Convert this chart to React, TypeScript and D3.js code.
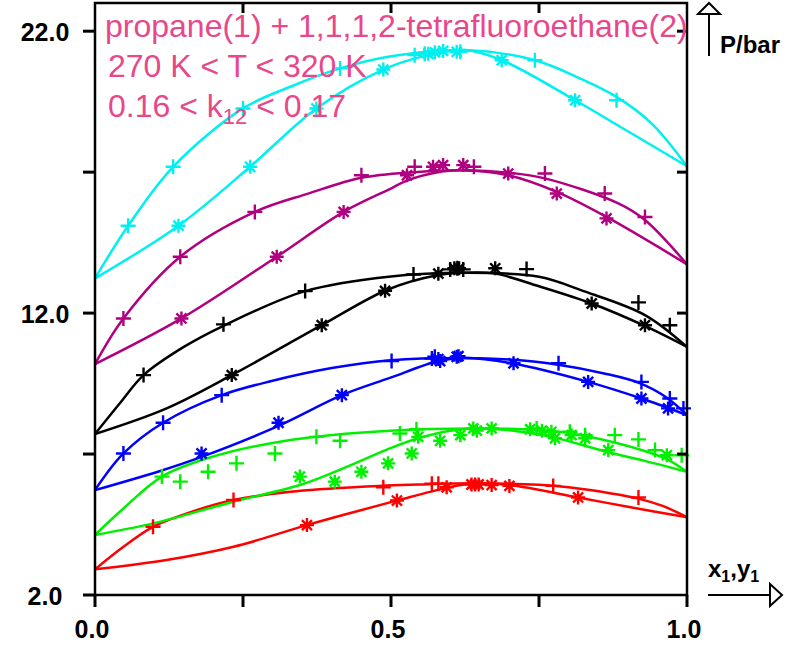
import React from 'react';
import * as d3 from 'd3';

// ---------- data ----------
// x1 / y1 positions and pressures (bar)
const redBubbleX = [0, 0.048, 0.098, 0.17, 0.234, 0.33, 0.45, 0.55, 0.64, 0.75, 0.8, 0.87, 0.918, 0.96, 1.0];
const redBubbleP = [2.91, 3.71, 4.42, 5.0, 5.37, 5.66, 5.84, 5.92, 5.96, 5.91, 5.82, 5.61, 5.42, 5.15, 4.76];
const redDewX = [0, 0.121, 0.234, 0.358, 0.43, 0.51, 0.594, 0.64, 0.7, 0.816, 0.9, 1.0];
const redDewP = [2.91, 3.24, 3.71, 4.48, 4.9, 5.35, 5.8, 5.96, 5.9, 5.46, 5.13, 4.76];
const redPlusX = [0.098, 0.234, 0.487, 0.569, 0.58, 0.774, 0.918];
const redPlusP = [4.42, 5.37, 5.82, 5.95, 5.95, 5.87, 5.46];
const redStarX = [0.358, 0.51, 0.594, 0.636, 0.642, 0.648, 0.67, 0.7, 0.816];
const redStarP = [4.48, 5.35, 5.82, 5.92, 5.92, 5.92, 5.9, 5.87, 5.46];

const greenBubbleX = [0, 0.048, 0.113, 0.19, 0.33, 0.498, 0.647, 0.75, 0.805, 0.876, 0.93, 0.966, 1.0];
const greenBubbleP = [4.13, 5.07, 6.2, 6.85, 7.5, 7.83, 7.91, 7.85, 7.73, 7.42, 7.1, 6.82, 6.37];
const greenDewX = [0, 0.0985, 0.234, 0.346, 0.42, 0.498, 0.546, 0.6, 0.647, 0.71, 0.771, 0.864, 0.93, 1.0];
const greenDewP = [4.13, 4.54, 5.31, 5.9, 6.5, 7.2, 7.56, 7.83, 7.91, 7.82, 7.61, 7.08, 6.75, 6.37];
const greenPlusX = [0.113, 0.144, 0.191, 0.239, 0.304, 0.374, 0.414, 0.515, 0.543, 0.746, 0.802, 0.828, 0.878, 0.918, 0.946, 0.991];
const greenPlusP = [6.2, 6.02, 6.37, 6.67, 7.02, 7.61, 7.47, 7.73, 7.88, 7.91, 7.79, 7.67, 7.67, 7.52, 7.14, 6.96];
const greenStarX = [0.346, 0.405, 0.45, 0.495, 0.535, 0.546, 0.583, 0.617, 0.639, 0.645, 0.67, 0.735, 0.755, 0.771, 0.777, 0.805, 0.828, 0.867, 0.966];
const greenStarP = [6.2, 6.02, 6.37, 6.67, 7.02, 7.61, 7.47, 7.67, 7.91, 7.83, 7.91, 7.88, 7.83, 7.79, 7.56, 7.67, 7.56, 7.14, 6.96];

const blueBubbleX = [0, 0.048, 0.115, 0.214, 0.3, 0.4, 0.5, 0.625, 0.7, 0.785, 0.86, 0.921, 0.966, 1.0];
const blueBubbleP = [5.72, 7.02, 8.11, 9.09, 9.6, 10.05, 10.33, 10.41, 10.35, 10.16, 9.86, 9.51, 9.0, 8.38];
const blueDewX = [0, 0.11, 0.18, 0.31, 0.417, 0.498, 0.58, 0.625, 0.704, 0.833, 0.923, 1.0];
const blueDewP = [5.72, 6.4, 6.9, 8.0, 9.09, 9.7, 10.3, 10.41, 10.22, 9.56, 8.97, 8.38];
const bluePlusX = [0.048, 0.115, 0.214, 0.501, 0.569, 0.574, 0.783, 0.923, 0.971, 0.994];
const bluePlusP = [7.02, 8.11, 9.09, 10.3, 10.39, 10.45, 10.22, 9.56, 8.97, 8.62];
const blueStarX = [0.18, 0.31, 0.417, 0.58, 0.583, 0.611, 0.614, 0.707, 0.833, 0.923, 0.968];
const blueStarP = [7.02, 8.11, 9.09, 10.37, 10.3, 10.45, 10.47, 10.22, 9.56, 8.97, 8.62];

const blackBubbleX = [0, 0.042, 0.082, 0.15, 0.217, 0.355, 0.5, 0.625, 0.75, 0.828, 0.929, 1.0];
const blackBubbleP = [7.71, 8.8, 9.8, 10.8, 11.55, 12.78, 13.3, 13.43, 13.29, 12.76, 11.93, 10.8];
const blackDewX = [0, 0.121, 0.231, 0.383, 0.493, 0.58, 0.625, 0.676, 0.75, 0.839, 0.926, 1.0];
const blackDewP = [7.71, 8.62, 9.8, 11.57, 12.82, 13.35, 13.43, 13.4, 12.95, 12.34, 11.57, 10.8];
const blackPlusX = [0.082, 0.217, 0.355, 0.538, 0.6, 0.612, 0.622, 0.729, 0.918, 0.971];
const blackPlusP = [9.8, 11.6, 12.78, 13.37, 13.55, 13.59, 13.55, 13.56, 12.38, 11.57];
const blackStarX = [0.231, 0.383, 0.49, 0.58, 0.607, 0.615, 0.676, 0.839, 0.929];
const blackStarP = [9.8, 11.57, 12.79, 13.4, 13.59, 13.59, 13.59, 12.34, 11.57];

const purpleBubbleX = [0, 0.048, 0.144, 0.27, 0.36, 0.45, 0.54, 0.62, 0.7, 0.76, 0.884, 0.929, 1.0];
const purpleBubbleP = [10.19, 11.81, 14.0, 15.59, 16.24, 16.8, 17.0, 17.07, 16.98, 16.78, 15.89, 15.3, 13.73];
const purpleDewX = [0, 0.146, 0.307, 0.42, 0.498, 0.527, 0.586, 0.62, 0.698, 0.78, 0.864, 1.0];
const purpleDewP = [10.19, 11.81, 14.0, 15.59, 16.4, 16.7, 17.02, 17.07, 16.89, 16.3, 15.41, 13.73];
const purplePlusX = [0.048, 0.144, 0.27, 0.45, 0.54, 0.64, 0.76, 0.861, 0.929];
const purplePlusP = [11.81, 14.0, 15.59, 16.89, 17.19, 17.19, 16.95, 16.24, 15.41];
const purpleStarX = [0.146, 0.307, 0.42, 0.527, 0.571, 0.588, 0.622, 0.698, 0.78, 0.864];
const purpleStarP = [11.81, 14.0, 15.59, 16.89, 17.19, 17.25, 17.25, 16.95, 16.24, 15.36];

const cyanBubbleX = [0, 0.056, 0.132, 0.25, 0.33, 0.414, 0.498, 0.625, 0.743, 0.82, 0.881, 0.94, 1.0];
const cyanBubbleP = [13.23, 15.1, 17.19, 19.26, 20.03, 20.68, 21.1, 21.33, 20.97, 20.32, 19.67, 18.73, 17.21];
const cyanDewX = [0, 0.141, 0.262, 0.374, 0.487, 0.563, 0.625, 0.687, 0.811, 0.9, 1.0];
const cyanDewP = [13.23, 15.1, 17.19, 19.26, 20.64, 21.15, 21.33, 20.97, 19.55, 18.45, 17.21];
const cyanPlusX = [0.056, 0.132, 0.25, 0.414, 0.54, 0.557, 0.617, 0.743, 0.881];
const cyanPlusP = [15.1, 17.19, 19.26, 20.68, 21.15, 21.2, 21.27, 20.97, 19.55];
const cyanStarX = [0.141, 0.262, 0.374, 0.487, 0.563, 0.574, 0.588, 0.611, 0.687, 0.811];
const cyanStarP = [15.1, 17.19, 19.26, 20.64, 21.2, 21.25, 21.3, 21.27, 20.97, 19.55];

const xMajorTicks = [0, 0.5, 1.0];
const xMajorLabels = ['0.0', '0.5', '1.0'];
const xAllTicks = [0, 0.25, 0.5, 0.75, 1.0];
const xTopTicks = [0.25, 0.5, 0.75];
const yAllTicks = [2, 7, 12, 17, 22];
const yLabelTicks = [2, 12, 22];
const yLabels = ['2.0', '12.0', '22.0'];

const titleLine1 = 'propane(1) + 1,1,1,2-tetrafluoroethane(2)';
const titleLine2 = '270 K < T < 320 K';

// ---------- layout ----------
const W = 792;
const H = 646;
const x = d3.scaleLinear().domain([0, 1]).range([95, 687]);
const y = d3.scaleLinear().domain([2, 23]).range([595, 3]);

const FONT = "'Liberation Sans', Arial, Helvetica, sans-serif";
const PINK = '#e8488a';

type Series = {
  color: string;
  bx: number[]; bp: number[];
  dx: number[]; dp: number[];
  px: number[]; pp: number[];
  sx: number[]; sp: number[];
};

const series: Series[] = [
  { color: '#ff0000', bx: redBubbleX, bp: redBubbleP, dx: redDewX, dp: redDewP, px: redPlusX, pp: redPlusP, sx: redStarX, sp: redStarP },
  { color: '#00f000', bx: greenBubbleX, bp: greenBubbleP, dx: greenDewX, dp: greenDewP, px: greenPlusX, pp: greenPlusP, sx: greenStarX, sp: greenStarP },
  { color: '#0000ff', bx: blueBubbleX, bp: blueBubbleP, dx: blueDewX, dp: blueDewP, px: bluePlusX, pp: bluePlusP, sx: blueStarX, sp: blueStarP },
  { color: '#000000', bx: blackBubbleX, bp: blackBubbleP, dx: blackDewX, dp: blackDewP, px: blackPlusX, pp: blackPlusP, sx: blackStarX, sp: blackStarP },
  { color: '#b0007f', bx: purpleBubbleX, bp: purpleBubbleP, dx: purpleDewX, dp: purpleDewP, px: purplePlusX, pp: purplePlusP, sx: purpleStarX, sp: purpleStarP },
  { color: '#00f0f0', bx: cyanBubbleX, bp: cyanBubbleP, dx: cyanDewX, dp: cyanDewP, px: cyanPlusX, pp: cyanPlusP, sx: cyanStarX, sp: cyanStarP },
];

const line = d3
  .line<[number, number]>()
  .x((d) => x(d[0]))
  .y((d) => y(d[1]))
  .curve(d3.curveCatmullRom.alpha(0.5));

const zip = (a: number[], b: number[]): [number, number][] => a.map((v, i) => [v, b[i]]);

const plusPath = (cx: number, cy: number, r = 7.5) =>
  `M${cx - r},${cy}H${cx + r}M${cx},${cy - r}V${cy + r}`;
const starPath = (cx: number, cy: number, r = 7) => {
  const d = r * 0.72;
  return `M${cx - r},${cy}H${cx + r}M${cx},${cy - r}V${cy + r}M${cx - d},${cy - d}L${cx + d},${cy + d}M${cx - d},${cy + d}L${cx + d},${cy - d}`;
};

export default function App() {
  return (
    <svg
      width={W}
      height={H}
      viewBox={`0 0 ${W} ${H}`}
      style={{ position: 'absolute', left: 0, top: 0, background: '#fff' }}
    >
      <rect x={0} y={0} width={W} height={H} fill="#fff" />

      {/* curves */}
      {series.map((s, i) => (
        <g key={'c' + i} fill="none" stroke={s.color} strokeWidth={2.5} strokeLinejoin="round">
          <path d={line(zip(s.bx, s.bp)) || ''} />
          <path d={line(zip(s.dx, s.dp)) || ''} />
        </g>
      ))}

      {/* markers */}
      {series.map((s, i) => (
        <g key={'m' + i} fill="none" stroke={s.color} strokeWidth={2.4}>
          {s.px.map((v, j) => (
            <path key={'p' + j} d={plusPath(x(v), y(s.pp[j]))} />
          ))}
          {s.sx.map((v, j) => (
            <path key={'s' + j} d={starPath(x(v), y(s.sp[j]))} />
          ))}
        </g>
      ))}

      {/* frame */}
      <rect x={x(0)} y={y(23)} width={x(1) - x(0)} height={y(2) - y(23)} fill="none" stroke="#000" strokeWidth={2.5} />

      {/* ticks */}
      <g stroke="#000" strokeWidth={3}>
        {yAllTicks.map((t) => (
          <line key={'yl' + t} x1={x(0) - 12} x2={x(0)} y1={y(t)} y2={y(t)} />
        ))}
        {yAllTicks.filter((t) => t > 2).map((t) => (
          <line key={'yr' + t} x1={x(1) - 10} x2={x(1)} y1={y(t)} y2={y(t)} />
        ))}
        {xAllTicks.map((t) => (
          <line key={'xb' + t} x1={x(t)} x2={x(t)} y1={y(2)} y2={y(2) + 12} />
        ))}
        {xTopTicks.map((t) => (
          <line key={'xt' + t} x1={x(t)} x2={x(t)} y1={y(23)} y2={y(23) + 10} />
        ))}
      </g>

      {/* tick labels */}
      <g fontFamily={FONT} fontWeight="bold" fontSize={25} fill="#000">
        {yLabelTicks.map((t, i) => (
          <text key={'ylab' + t} x={45} y={y(t) + 10} textAnchor="middle">
            {yLabels[i]}
          </text>
        ))}
        {xMajorTicks.map((t, i) => (
          <text key={'xlab' + t} x={x(t) - 3} y={638} textAnchor="middle">
            {xMajorLabels[i]}
          </text>
        ))}
      </g>

      {/* axis titles with arrows */}
      <g fill="none" stroke="#000" strokeWidth={2}>
        <line x1={709} y1={56} x2={709} y2={14} />
        <polygon points="698,14 720,14 709,3" fill="#fff" />
        <line x1={708} y1={595} x2={770} y2={595} />
        <polygon points="770,584 770,606 782,595" fill="#fff" />
      </g>
      <text x={720} y={53} fontFamily={FONT} fontWeight="bold" fontSize={24} fill="#000">
        P/bar
      </text>
      <text x={708} y={577} fontFamily={FONT} fontWeight="bold" fontSize={24} fill="#000">
        x<tspan fontSize={16} dy={5}>1</tspan>
        <tspan dy={-5}>,y</tspan>
        <tspan fontSize={16} dy={5}>1</tspan>
      </text>

      {/* title */}
      <g fontFamily={FONT} fontSize={32} fill={PINK}>
        <text x={105} y={37}>{titleLine1}</text>
        <text x={108} y={77}>{titleLine2}</text>
        <text x={108} y={117}>
          0.16 &lt; k<tspan fontSize={22} dy={7}>12</tspan>
          <tspan dy={-7}> &lt; 0.17</tspan>
        </text>
      </g>
    </svg>
  );
}
